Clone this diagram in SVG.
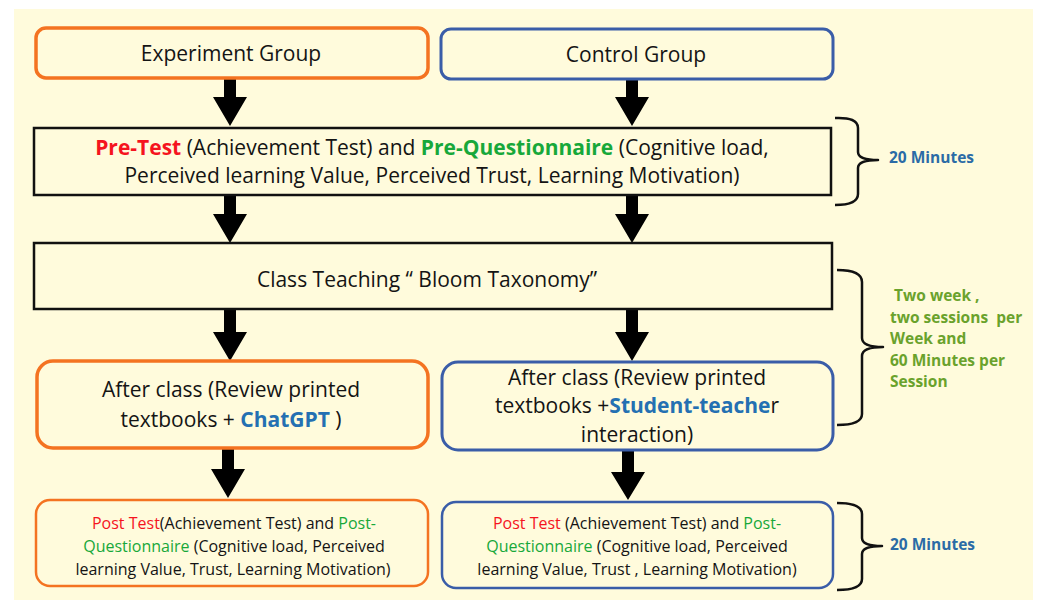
<svg xmlns="http://www.w3.org/2000/svg" width="1037" height="600" viewBox="0 0 1037 600">
  <style>
    .t { font-family: "Open Sans", "Liberation Sans", sans-serif; fill: #141414; }
    .big { font-size: 21px; }
    .small { font-size: 16px; }
    .b { font-weight: bold; }
    .red { fill: #F5141E; }
    .grn { fill: #17A83A; }
    .blu { fill: #2470B2; }
    .olive { font-family: "Open Sans", "Liberation Sans", sans-serif; fill: #6AA22C; font-size: 15.5px; font-weight: bold; white-space: pre; }
    .mins { font-family: "Open Sans", "Liberation Sans", sans-serif; fill: #2B6BA6; font-size: 15.5px; font-weight: bold; }
    .exp { fill: none; stroke: #F47321; stroke-width: 3.5; }
    .ctl { fill: none; stroke: #3A5DA8; stroke-width: 3; }
    .exp2 { fill: none; stroke: #F47321; stroke-width: 2.5; }
    .ctl2 { fill: none; stroke: #3A5DA8; stroke-width: 2.5; }
    .step { fill: none; stroke: #111; stroke-width: 2.5; }
    .arrow { fill: #000; }
    .brace { fill: none; stroke: #111; stroke-width: 2.5; stroke-linejoin: round; }
  </style>

  <!-- page background -->
  <rect x="0" y="0" width="1037" height="600" fill="#FFFFFF"/>
  <rect x="14" y="9" width="1019" height="591" fill="#FFFBDC"/>

  <!-- block arrows between steps -->
  <g id="connectors">
    <polygon class="arrow" points="224,78 236,78 236,97 247,97 230,126 213,97 224,97"/>
    <polygon class="arrow" points="626,80 638,80 638,97 649,97 632,126 615,97 626,97"/>
    <polygon class="arrow" points="224,195 236,195 236,214 247,214 230,243 213,214 224,214"/>
    <polygon class="arrow" points="626,195 638,195 638,214 649,214 632,243 615,214 626,214"/>
    <polygon class="arrow" points="224,309 236,309 236,332 247,332 230,361 213,332 224,332"/>
    <polygon class="arrow" points="626,309 638,309 638,332 649,332 632,361 615,332 626,332"/>
    <polygon class="arrow" points="222,448 234,448 234,469 245,469 228,498 211,469 222,469"/>
    <polygon class="arrow" points="622,450 634,450 634,472 645,472 628,500 611,472 622,472"/>
  </g>

  <g id="experiment-group">
    <rect class="exp" x="36" y="28" width="392" height="50" rx="10"/>
    <text class="t big" x="231" y="61" text-anchor="middle">Experiment Group</text>
  </g>

  <g id="control-group">
    <rect class="ctl" x="441" y="29" width="392" height="50" rx="10"/>
    <text class="t big" x="636" y="62" text-anchor="middle">Control Group</text>
  </g>

  <g id="pre-test">
    <rect class="step" x="34" y="128" width="797" height="67"/>
    <text class="t big" x="432" y="155" text-anchor="middle"><tspan class="b red">Pre-Test</tspan> (Achievement Test) and <tspan class="b grn">Pre-Questionnaire</tspan> (Cognitive load,</text>
    <text class="t big" x="432" y="183" text-anchor="middle">Perceived learning Value, Perceived Trust, Learning Motivation)</text>
  </g>

  <g id="class-teaching">
    <rect class="step" x="34" y="243" width="798" height="66"/>
    <text class="t big" x="427" y="287" text-anchor="middle">Class Teaching “ Bloom Taxonomy”</text>
  </g>

  <g id="after-class-experiment">
    <rect class="exp" x="37" y="361" width="391" height="87" rx="16"/>
    <text class="t big" x="231" y="397" text-anchor="middle">After class (Review printed</text>
    <text class="t big" x="231" y="427" text-anchor="middle">textbooks + <tspan class="b blu">ChatGPT</tspan> )</text>
  </g>

  <g id="after-class-control">
    <rect class="ctl" x="442" y="362" width="391" height="88" rx="16"/>
    <text class="t big" x="637" y="385" text-anchor="middle">After class (Review printed</text>
    <text class="t big" x="637" y="413" text-anchor="middle">textbooks +<tspan class="b blu">Student-teache</tspan>r</text>
    <text class="t big" x="637" y="442" text-anchor="middle">interaction)</text>
  </g>

  <g id="post-test-experiment">
    <rect class="exp2" x="36" y="500" width="392" height="86" rx="14"/>
    <text class="t small" x="234" y="529" text-anchor="middle"><tspan class="red">Post Test</tspan>(Achievement Test) and <tspan class="grn">Post-</tspan></text>
    <text class="t small" x="234" y="552" text-anchor="middle"><tspan class="grn">Questionnaire</tspan> (Cognitive load, Perceived</text>
    <text class="t small" x="233" y="575" text-anchor="middle">learning Value, Trust, Learning Motivation)</text>
  </g>

  <g id="post-test-control">
    <rect class="ctl2" x="442" y="502" width="391" height="86" rx="14"/>
    <text class="t small" x="637" y="529" text-anchor="middle"><tspan class="red">Post Test</tspan> (Achievement Test) and <tspan class="grn">Post-</tspan></text>
    <text class="t small" x="637" y="552" text-anchor="middle"><tspan class="grn">Questionnaire</tspan> (Cognitive load, Perceived</text>
    <text class="t small" x="637" y="575" text-anchor="middle">learning Value, Trust , Learning Motivation)</text>
  </g>

  <!-- duration braces -->
  <g id="duration-pre">
    <path class="brace" d="M835,118 Q858,117 858,128 V152 Q858,160 878,160 Q858,160 858,168 V194 Q858,205 835,205"/>
    <text class="mins" x="889" y="163">20 Minutes</text>
  </g>

  <g id="duration-class">
    <path class="brace" d="M837,270 Q862,270 862,282 V338 Q862,347 883,347 Q862,347 862,356 V414 Q862,425 837,425"/>
    <text class="olive" x="890" y="301"> Two week ,</text>
    <text class="olive" x="890" y="323">two sessions  per</text>
    <text class="olive" x="890" y="344">Week and</text>
    <text class="olive" x="890" y="366">60 Minutes per</text>
    <text class="olive" x="890" y="387">Session</text>
  </g>

  <g id="duration-post">
    <path class="brace" d="M837,503 Q862,503 862,514 V538 Q862,546 882,546 Q862,546 862,554 V579 Q862,590 837,590"/>
    <text class="mins" x="890" y="550">20 Minutes</text>
  </g>
</svg>
